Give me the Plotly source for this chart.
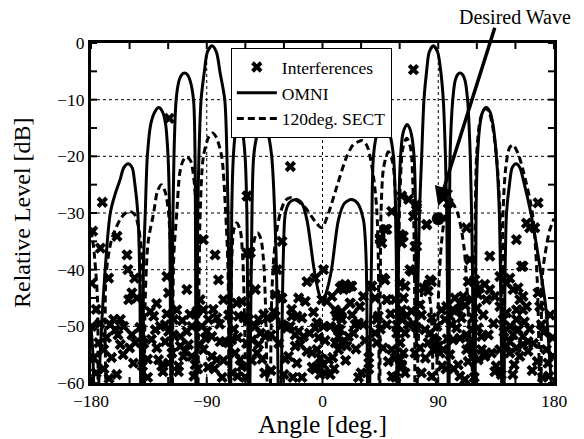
import plotly.graph_objects as go

# ---------------- data ----------------
omni_angle = [-180, -178.5, -177,
              -174, -170.5, -165, -161, -157.5, -154.5, -151.1, -148, -146, -143.6, -142.2, -140.8,
              -139.3, -137.8, -136.2, -133.5, -130.5, -127.3, -124.3, -122, -120.1, -118.9, -117.5,
              -116.5, -115.5, -113.8, -111.5, -109.5, -107.3, -105, -103, -100.3, -99.1, -98.2,
              -97, -96.1, -94.4, -92, -89.5, -86, -82.5, -79.6, -76, -74.3, -73.4, -71.6,
              -70.6, -69.3, -67.8, -66.5, -65, -63.5, -62, -60.2, -58.8, -57.3,
              -55.3, -53.5, -50.5, -48.7, -46.6, -44.5, -42.5, -39.5, -36, -33.3,
              -30.5, -28.8, -25.5, -20, -16, -12.1, -6.5, -3, 0, 3, 7, 12.4, 17, 22.5, 27, 31.8, 33.9, 35.5,
              38.1, 39.6, 42.5, 45, 47.2, 49.4, 52, 55.2, 57.2, 58.2,
              59.3, 60.7, 62.5, 64.3, 65.8, 67.3, 69, 71.2, 72.4, 73,
              75.4, 77.1, 78.9, 80.8, 83, 86.2, 89.5, 92.1, 93.9, 95.6, 96.6, 98.3,
              99.2, 101.3, 103.2, 105, 106.9, 109, 110.8, 112.8, 114.9, 116.3, 118.3,
              119.4, 120.5, 122.5, 124.5, 127.3, 130.3, 132.5, 135.2, 137.5, 140.5,
              142, 143.1, 145.5, 147.5, 150.5, 153.5, 156.5, 162, 168, 173.8, 177.9, 180]
omni_db = [-50, -55, -70,
           -60, -45, -30, -26.5, -24.2, -22, -21.3, -22, -24.7, -30, -40, -75,
           -40, -30, -20, -14.3, -12.2, -11.4, -12.2, -14.3, -20, -30, -75,
           -35, -20, -10, -6.6, -5.6, -5.3, -5.6, -6.6, -10, -20, -75,
           -30, -20, -10, -5.3, -1.6, -0.5, -1.6, -5.3, -10, -20, -30, -75,
           -30, -20, -16, -14.8, -14.4, -14.8, -16, -20, -30, -75,
           -38, -20, -16, -15.2, -15, -15.2, -16, -20, -38, -75,
           -38, -30, -28.1, -27.6, -28.3, -31.2, -40, -44, -45.8, -44, -40, -31.2, -28.3, -27.6, -28.2, -31.2, -38, -75,
           -38, -20, -16, -15.2, -15, -15.2, -16, -20, -35, -75,
           -30, -20, -16, -14.8, -14.4, -14.8, -16, -20, -30, -53,
           -30, -20, -10, -5.3, -1.6, -0.5, -1.6, -5.3, -10, -20, -30, -75,
           -20, -10, -6.6, -5.6, -5.3, -5.6, -6.6, -10, -20, -35, -75,
           -30, -20, -14.3, -12.2, -11.4, -12.2, -14.3, -20, -30, -75,
           -40, -30, -24.7, -22, -21.3, -22, -24.5, -30, -38, -47, -60, -66]

sect_angle = [-180, -178, -175, -172,
              -170, -169, -168.3, -164, -157, -153, -149.7, -146, -143.5, -141.5, -140.2, -139.3, -138.7,
              -137.8, -135.5, -131.3, -128.5, -125.4, -122.3, -119.7, -118, -117,
              -115.7, -113.3, -111, -108.5, -105.5, -102.5, -100, -98.2, -97.5,
              -95.1, -92.6, -88.5, -85.6, -82.7, -78.4, -75.3, -73.5, -72.3,
              -70.5, -69, -66.7, -64, -62, -60.5, -58.5,
              -56.5, -55, -52.5, -50.5, -48, -46, -44.5, -41.5,
              -39.5, -38, -35.5, -32.8, -29, -25, -20, -16, -12.1, -5.7, -0.5, 4.7, 11.2, 18.9, 24, 27.9,
              30.6, 33.5, 35.7, 39.6, 42.2, 43.4, 44.3,
              45, 45.5, 47.5, 51.2, 54.5, 56.5, 57.5, 58.3,
              59, 60.5, 62.5, 65.5, 68.5, 70.3, 71.5, 72.3,
              76, 80, 84, 87,
              91, 95, 100, 105, 110, 114, 117, 118,
              118.8, 119.8, 122, 124.5, 127, 129.5, 132, 135.3, 138, 140,
              140.4, 142.5, 145.4, 148.2, 152, 156, 163.2, 167, 169.8,
              171, 174, 176.7, 180]
sect_db = [-33, -36, -45, -75,
           -75, -50, -41, -34.7, -31, -30, -29.7, -30.3, -32, -35, -39, -48, -75,
           -45, -35, -30, -26.3, -25, -26.3, -30, -38, -75,
           -38, -30, -23, -20.8, -20.1, -20.8, -24, -30, -75,
           -30, -20, -16.6, -15.9, -16.6, -20, -30, -40, -75,
           -38, -33, -31.7, -33, -38, -50, -75,
           -45, -38, -34.3, -33.5, -34.5, -38, -45, -75,
           -45, -38.2, -33, -30, -27.8, -27.3, -27.8, -28.5, -29.4, -31.5, -32.6, -30, -25.3, -20, -17.9, -17.4,
           -17.2, -17.7, -18.8, -23.5, -29.4, -38.2, -75,
           -40, -30, -22, -19.2, -21, -26, -35, -75,
           -40, -25, -18.5, -16.8, -18.5, -25, -40, -75,
           -46, -42, -46, -75,
           -40, -31, -28, -30, -36, -50, -60, -75,
           -30, -20, -14.3, -12.2, -11.5, -12.2, -14.3, -20, -30, -75,
           -30, -22, -18.5, -18, -19.5, -22.5, -30, -42, -75,
           -41, -36, -33, -31]

intf_angle = [-25, -119.2, 70.7, -171.2, 67, 73, 167.6, 97.8, 61.6, -58.7, 53.8, 50, 44.8, 62.8, 73.2, 81, 71.9,
              -56.1, -31.5,
              -178.7, -172.7, -179.5, -166.3, -159.8, -152, -151.3, -146.1, -148.2, -144.3, -150.7,
              -162.4, -157.2, -154.6, -165, -161.1, -157.2, -145.5, -148.2, -170.1, -174, -179.5, -178,
              -133.9, -131.3, -130, -126.2, -122.3, -119.7, -115.8, -113.3, -128.8, -127.5, -119.7, -117.1, -122.3,
              -121, -119.7, -105.5, -110.6, -104.2, -105.5, -101.6, -110.6, -106.8, -101.6, -108.1,
              -97.8, -92.6, -88.7, -93.9, -90, -82.2, -86.1, -91.2, -92.6, -86.1, -82.2,
              -92.6, -83.5, -95.1, -80.9, -77, -79.6, -75.7, -73.2, -70.6, -68, -64.1, -62.8,
              -66.7, -62.8, -65.4,
              -58.7, -52.2, -57.4, -49.7, -52.2, -45.8, -48.3, -54.8, -44.5, -49.7, -50.9,
              -36.7, -31.5, -38, -36.7, -31.5, -27.6, -25.1, -21.2, -18.6, -14.7, -19.9, -18.6, -13.4,
              -26.4, -21.2, -17.3, -12.1, -5.7, -4.3, 0.8, -5.7, 0.8, -0.5, 3.4,
              -12.1, -8.2, -4.3, -1.8, -4.3, 0.8, 4.7, 2.1, -5.7,
              9.9, 15, 11.2, 15, 11.2, 13.7, 12.4, 9.9, 15, 18.9, 12.4, 15, 18.9, 22.8, 21.5,
              25.4, 27.9, 31.8, 20.2, 17.6, 24.1, 38.3, 40.9, 42.2, 43.4, 40.9, 42.2,
              48.6, 50, 50, 48.6, 44.8, 46.1, 56.4, 61.6, 57.7, 53.8, 56.4, 61.6, 51.2,
              70.7, 81, 60.3, 61.6, 73.2, 112, 114.6, 130.1, 150.8, 155.9,
              84.9, 78.4, 82.2, 69.4, 60.3, 64.2,
              113.3, 118.5, 122.3, 121, 115.9, 126.2, 130.1, 127.5, 109.4, 106.8, 105.5,
              92.6, 96.5, 99.1, 95.2, 100.4, 101.6,
              137.9, 143.1, 145.6, 148.2, 152.1, 153.4, 155.9, 150.8, 155.9, 158.6,
              134, 137.9, 143.1, 140.4, 150.8, 152.1, 155.9, 159.8, 148.2, 145.6,
              60.3, 65.5, 61.6, 66.7, 64.2, 60.3, 62.8, 60.3, 71.9, 75.8,
              79.7, 83.6, 86.1, 82.2, 88.8, 90, 86.1, 91.3, 93.9,
              104.3, 106.8, 101.6, 112, 115.9, 121, 123.7, 114.6, 112, 117.1, 123.7, 127.5, 131.4,
              137.9, 143.1, 145.6, 150.8, 155.9, 159.8, 153.4, 121, 113.3, 126.2,
              105.5, 106.8, 110.7, 61.6, 64.2, 174.1, 175.3, 179.2, 167.6, 168.9, 170.2, 158.6, 165,
              161.1, 154.7, 68, 83.6, 47.3, 38.3, 17.6, 16.3, 21.5, 13.7, 21.5, 50, 31.8, 75.8,
              7.3, 11.2, 13.7, -35.4, -23.8,
              -170, -160, -140, -124, -100, -84, -70, -60, -40, -30, -16, -8, 6, 28, 36, 54, 77, 96, 118, 134,
              148, 163, 176, -176, -166, -136, -112, -97, -78, -66, -45, -23, -2, 9, 30, 57, 85, 102, 139, 171,
              -176, -173, -168, -164, -159, -155, -150, -147, -142, -139, -136, -133, -129, -125, -121, -116,
              -112, -109, -103, -99, -95, -89, -85, -80, -77, -73, -69, -66, -61, -59, -55, -47, -43, -40,
              -34, -29, -24, -20, -16, -10, -7, -3, 2, 6, 8, 18, 23, 26, 29, 33, 36, 45, 47, 53, 58, 63,
              69, 73, 77, 80, 85, 89, 93, 97, 99, 103, 108, 111, 117, 120, 125, 129, 133, 135, 141, 146,
              149, 157, 161, 164, 167, 172, 177, 179]
intf_db = [-21.8, -13.3, -4.7, -28.1, -27.6, -28.5, -28.2, -28.2, -27, -27, -29.7, -32.9, -34.4, -34.1, -29.1, -32, -35.9,
           -37, -35,
           -33.2, -36.2, -42.4, -41.5, -34.1, -37.4, -40, -41.5, -44.1, -45, -45.3,
           -48.8, -48.8, -50, -49.7, -50.6, -53.2, -52.9, -51.5, -54.1, -52.9, -50, -55.6,
           -47.4, -48.2, -50.6, -50, -49.7, -50.9, -48.8, -47.1, -53.8, -55.9, -56.5, -54.7, -52.7,
           -41.2, -44.1, -43.5, -51.8, -53.2, -50.9, -50, -53.5, -54.4, -55.3, -55.3,
           -47.4, -47.1, -48.8, -50, -50.9, -48.5, -51.8, -52.1, -54.1, -55.3, -55.9,
           -34.7, -37.4, -45.3, -41.8, -45.3, -52.7, -52.7, -52.9, -52.4, -54.7, -55.9, -57.1,
           -45.9, -45.6, -48.2,
           -37.1, -43.5, -48.8, -48.8, -50, -47.9, -51.2, -52.4, -51.8, -53.2, -54.7,
           -44.4, -45, -47.4, -48.2, -49.7, -50.3, -50, -51.5, -50.9, -51.8, -48.2, -45, -45.6,
           -55.3, -53.5, -53.2, -42.1, -41.5, -49.4, -50, -50.3, -40, -45.3, -45.6,
           -54.4, -54.7, -54.1, -55.6, -57.1, -56.8, -55.9, -58.2, -57.6,
           -47.1, -47.4, -48.2, -48.8, -50.3, -50.6, -51.8, -52.9, -52.9, -53.5, -54.1, -42.9, -43.2, -42.9, -45.9,
           -49.7, -49.4, -49.7, -51.8, -52.7, -51.2, -42.9, -45, -48.8, -48.2, -51.2, -52.9,
           -41.8, -45.3, -49.7, -32.9, -34.7, -35.3, -45.3, -47.1, -51.2, -54.1, -55.6, -57.1, -56.2,
           -30.6, -32.1, -33.8, -35.3, -35.9, -32.6, -38.2, -37.6, -34.7, -39.4,
           -42.1, -43.2, -43.8, -40.3, -42.4, -42.9,
           -42.1, -41.8, -43.2, -44.4, -45.3, -42.6, -43.5, -45.3, -44.7, -45.9, -47.1,
           -47.1, -46.5, -48.2, -48.8, -49.7, -47.1,
           -41.2, -42.4, -41.5, -43.5, -43.2, -45.3, -44.7, -47.1, -47.1, -46.5,
           -44.7, -46.5, -47.6, -48.8, -48.8, -50.6, -51.8, -52.7, -51.5, -52.7,
           -47.6, -48.2, -48.8, -49.7, -51.2, -52.9, -54.7, -55.9, -54.7, -53.8,
           -50.6, -51.2, -52.1, -52.9, -52.7, -53.5, -54.1, -54.7, -54.1,
           -50.3, -52.1, -52.4, -51.5, -50.6, -50.3, -51.8, -52.9, -54.1, -54.7, -54.1, -54.7, -54.7,
           -54.1, -53.5, -54.7, -53.8, -53.2, -54.4, -55.3, -55.9, -56.2, -55.3,
           -56.8, -58.8, -59.4, -56.8, -58.2, -54.1, -56.5, -55.3, -44.1, -46.5, -49.7, -31.8, -32.6,
           -32.6, -39.4, -40, -41.8, -41.5, -42.9, -42.6, -43.5, -42.9, -43.2, -45.9, -45.3, -44.7, -46.2,
           -44.7, -47.6, -48.2, -40, -48.2,
           -57.5, -58.5, -57, -58, -58.8, -57.5, -58.2, -59, -57.8, -58.5, -59, -57.2, -58.5, -59, -57.5, -58.8,
           -58.2, -57.5, -59, -58,
           -58.5, -57.8, -58.8, -58.2, -59.2, -59, -58, -57.5, -59, -58.8, -58.2, -59, -58.5, -57.5, -58.2, -59,
           -58.8, -57.5, -58.5, -59,
           -47, -49.5, -52, -55.5, -51.5, -55, -53.8, -56.5, -50.2, -53, -55.8, -52.3, -46, -57, -47.8, -51.5,
           -57, -49, -47.9, -56.8, -53.2, -57.2, -47, -49.6, -56, -48, -50.5, -52, -48.5, -53, -56, -55.8, -48.5, -51.5,
           -53, -55.8, -47, -56.5, -48.5, -51.2, -47.5, -52, -52.5, -50, -55.5, -56, -48, -54, -46.5, -52.5, -55.5, -50.5, -53.8, -47.8, -49.8, -45,
           -47.3, -50.2, -48, -55.6, -48.5, -50, -57, -52.2, -55, -45, -48.5, -46.3, -48.5, -46.8, -48, -51.5, -49.5, -57, -51, -50,
           -56.8, -49.2, -50.5, -53, -56.2, -51, -48, -52]

desired_angle = [90]
desired_db = [-31]

# axis ticks: every 30 deg / 5 dB, labels and dotted grid every 90 deg / 10 dB
x_ticks = [-180, -150, -120, -90, -60, -30, 0, 30, 60, 90, 120, 150, 180]
x_labels = ["\u2212180", "", "", "\u221290", "", "", "0", "", "", "90", "", "", "180"]
x_grid = [-90, 0, 90]
y_ticks = [0, -5, -10, -15, -20, -25, -30, -35, -40, -45, -50, -55, -60]
y_labels = ["0", "", "\u221210", "", "\u221220", "", "\u221230", "", "\u221240", "", "\u221250", "", "\u221260"]
y_grid = [-10, -20, -30, -40, -50]

FONT = "Liberation Serif"
TICK_LEN = 6

fig = go.Figure()
fig.add_trace(go.Scatter(x=intf_angle, y=intf_db, mode="markers", name="Interferences",
                         marker=dict(symbol="x", size=10, color="black", line=dict(width=0))))
fig.add_trace(go.Scatter(x=omni_angle, y=omni_db, mode="lines", name="OMNI",
                         line=dict(color="black", width=3, shape="spline", smoothing=0.8)))
fig.add_trace(go.Scatter(x=sect_angle, y=sect_db, mode="lines", name="120deg. SECT",
                         line=dict(color="black", width=3, dash="7px,4px", shape="spline", smoothing=0.8)))
fig.add_trace(go.Scatter(x=desired_angle, y=desired_db, mode="markers", showlegend=False,
                         marker=dict(symbol="circle", size=13, color="black")))

# dotted grid lines at the labelled positions
for g in x_grid:
    fig.add_shape(type="line", xref="x", yref="paper", x0=g, x1=g, y0=0, y1=1, layer="below",
                  line=dict(color="black", width=1, dash="dot"))
for g in y_grid:
    fig.add_shape(type="line", xref="paper", yref="y", x0=0, x1=1, y0=g, y1=g, layer="below",
                  line=dict(color="black", width=1, dash="dot"))

# inward tick marks on all four sides (pixel-sized, positioned by the axis scale)
for t in x_ticks:
    for anchor, d in ((0, TICK_LEN), (1, -TICK_LEN)):
        fig.add_shape(type="line", xref="x", yref="paper", ysizemode="pixel", yanchor=anchor,
                      x0=t, x1=t, y0=0, y1=d, layer="above",
                      line=dict(color="black", width=2))
for t in y_ticks:
    for anchor, d in ((0, TICK_LEN), (1, -TICK_LEN)):
        fig.add_shape(type="line", xref="paper", yref="y", xsizemode="pixel", xanchor=anchor,
                      x0=0, x1=d, y0=t, y1=t, layer="above",
                      line=dict(color="black", width=2))

# arrow to the desired wave
fig.add_annotation(x=90, y=-28.8, xref="x", yref="y", text="", showarrow=True,
                   ax=57, ay=-180, arrowhead=2, arrowsize=1.1, arrowwidth=3.5, arrowcolor="black")
fig.add_annotation(x=0.916, y=1.076, xref="paper", yref="paper", text="Desired Wave",
                   showarrow=False, xanchor="center", yanchor="middle",
                   font=dict(family=FONT, size=20, color="black"))
# axis titles
fig.add_annotation(x=0.5, y=-0.121, xref="paper", yref="paper", text="Angle [deg.]",
                   showarrow=False, xanchor="center", yanchor="middle",
                   font=dict(family=FONT, size=25.5, color="black"))
fig.add_annotation(x=-0.149, y=0.5, xref="paper", yref="paper", text="Relative Level [dB]",
                   showarrow=False, xanchor="center", yanchor="middle", textangle=-90,
                   font=dict(family=FONT, size=24, color="black"))

fig.update_layout(
    width=584, height=439,
    margin=dict(l=91, r=30, t=43, b=56),
    paper_bgcolor="white", plot_bgcolor="white",
    font=dict(family=FONT, size=17, color="black"),
    showlegend=True,
    legend=dict(x=0.302, y=0.985, xanchor="left", yanchor="top",
                bgcolor="white", bordercolor="black", borderwidth=1,
                font=dict(family=FONT, size=17.5), itemwidth=40, tracegroupgap=0),
)
fig.update_xaxes(range=[-180, 180], tickmode="array", tickvals=x_ticks, ticktext=x_labels,
                 showline=True, linecolor="black", linewidth=3, mirror=True,
                 ticks="", showgrid=False, zeroline=False, tickfont=dict(family=FONT, size=17.5))
fig.update_yaxes(range=[-60, 0], tickmode="array", tickvals=y_ticks, ticktext=y_labels,
                 showline=True, linecolor="black", linewidth=3, mirror=True,
                 ticks="", showgrid=False, zeroline=False, tickfont=dict(family=FONT, size=17.5))

fig.write_html("out.html")
